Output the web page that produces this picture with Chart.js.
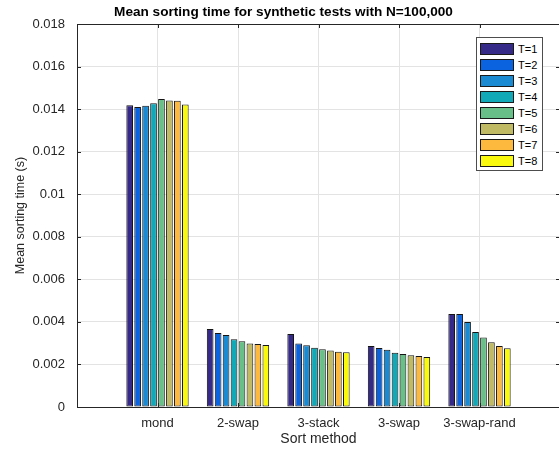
<!DOCTYPE html>
<html>
<head>
<meta charset="utf-8">
<script src="https://cdn.jsdelivr.net/npm/chart.js@4/dist/chart.umd.min.js"></script>
<style>
  html, body { margin: 0; padding: 0; background: #fff; overflow: hidden; }
  #wrap { position: absolute; left: 0; top: 0; width: 569px; height: 452px; }
  #legend {
    position: absolute; left: 476px; top: 37px; width: 67px; height: 134px;
    border: 1px solid #4d4d4d; background: #fff; box-sizing: border-box;
    font: 11px "Liberation Sans", Arial, sans-serif; color: #000;
  }
  .row { position: absolute; left: 3px; height: 12px; width: 60px; }
  .sw { position: absolute; left: 0; top: 0; width: 34px; height: 12px; border: 1px solid #1a1a1a; box-sizing: border-box; }
  .lb { position: absolute; left: 38px; top: -1px; line-height: 14px; white-space: nowrap; }
</style>
</head>
<body>
<div id="wrap"><canvas id="chart"></canvas></div>
<div id="legend"></div>
<script>
// Sort methods along the x axis
const methods = ['mond', '2-swap', '3-stack', '3-swap', '3-swap-rand'];

// Thread counts shown in the legend
const threadLabels = ['T=1', 'T=2', 'T=3', 'T=4', 'T=5', 'T=6', 'T=7', 'T=8'];

// Mean sorting time (s) per method, one array per thread count
const t1 = [0.01418, 0.00367, 0.00343, 0.00287, 0.00437];
const t2 = [0.01410, 0.00348, 0.00299, 0.00277, 0.00437];
const t3 = [0.01416, 0.00338, 0.00290, 0.00269, 0.00399];
const t4 = [0.01427, 0.00318, 0.00279, 0.00255, 0.00352];
const t5 = [0.01447, 0.00309, 0.00271, 0.00249, 0.00327];
const t6 = [0.01441, 0.00299, 0.00265, 0.00243, 0.00304];
const t7 = [0.01439, 0.00296, 0.00260, 0.00240, 0.00287];
const t8 = [0.01422, 0.00291, 0.00257, 0.00235, 0.00276];

// Y axis tick values
const yTicks = [0, 0.002, 0.004, 0.006, 0.008, 0.01, 0.012, 0.014, 0.016, 0.018];

const seriesValues = [t1, t2, t3, t4, t5, t6, t7, t8];
const seriesColors = ['#352a87', '#0b63e0', '#1a8bd3', '#11a8b8', '#68bf88', '#bfba63', '#fdb93e', '#f9f90e'];

const textColor = '#262626';
const gridColor = '#e3e3e3';
const fontFamily = '"Liberation Sans", Arial, Helvetica, sans-serif';

// Empty slots on both ends give the axis one unit of margin around the groups
const xLabels = [''].concat(methods, ['']);

const datasets = seriesValues.map((vals, i) => ({
  label: threadLabels[i],
  data: [null].concat(vals, [null]),
  backgroundColor: seriesColors[i],
  borderColor: '#151515',
  borderWidth: 1,
  borderSkipped: false,
  categoryPercentage: 0.79,
  barPercentage: 0.84
}));

// Axes box top edge and inward tick marks
const axesBox = {
  id: 'axesBox',
  afterDatasetsDraw(chart) {
    const { ctx, chartArea: a, scales } = chart;
    ctx.save();
    ctx.strokeStyle = textColor;
    ctx.lineWidth = 1;
    ctx.beginPath();
    ctx.moveTo(a.left, a.top + 0.5);
    ctx.lineTo(a.right, a.top + 0.5);
    const len = 4;
    yTicks.forEach(v => {
      const y = Math.round(scales.y.getPixelForValue(v)) + 0.5;
      ctx.moveTo(a.left, y); ctx.lineTo(a.left + len, y);
      ctx.moveTo(a.right, y); ctx.lineTo(a.right - len, y);
    });
    methods.forEach((m, i) => {
      const x = Math.round(scales.x.getPixelForValue(i + 1)) + 0.5;
      ctx.moveTo(x, a.bottom); ctx.lineTo(x, a.bottom - len);
      ctx.moveTo(x, a.top); ctx.lineTo(x, a.top + len);
    });
    ctx.stroke();
    ctx.restore();
  }
};

const chart = new Chart(document.getElementById('chart'), {
  type: 'bar',
  data: { labels: xLabels, datasets },
  options: {
    responsive: true,
    maintainAspectRatio: false,
    animation: false,
    layout: { padding: { top: 0, left: 0, right: 2, bottom: 0 } },
    plugins: {
      legend: { display: false },
      tooltip: { enabled: false },
      title: {
        display: true,
        text: 'Mean sorting time for synthetic tests with N=100,000',
        color: '#000',
        font: { family: fontFamily, size: 13.6, weight: 'bold', lineHeight: '16px' },
        padding: { top: 4, bottom: 4 }
      }
    },
    scales: {
      x: {
        type: 'category',
        offset: false,
        grid: { color: gridColor, drawTicks: false, offset: false },
        border: { color: textColor },
        ticks: {
          color: textColor, padding: 9, autoSkip: false, maxRotation: 0,
          font: { family: fontFamily, size: 13 }
        },
        title: {
          display: true, text: 'Sort method', color: textColor,
          font: { family: fontFamily, size: 14 },
          padding: { top: 0, bottom: 4 }
        },
        afterFit(scale) { scale.height = 45; }
      },
      y: {
        min: 0,
        max: 0.018,
        grid: { color: gridColor, drawTicks: false },
        border: { color: textColor },
        afterBuildTicks(scale) { scale.ticks = yTicks.map(v => ({ value: v })); },
        ticks: {
          color: textColor, padding: 12,
          font: { family: fontFamily, size: 13 },
          callback: v => String(Number(v.toFixed(3)))
        },
        title: {
          display: true, text: 'Mean sorting time (s)', color: textColor,
          font: { family: fontFamily, size: 12.5 },
          padding: { top: 13, bottom: 0 }
        },
        afterFit(scale) { scale.width = 77; }
      }
    }
  },
  plugins: [axesBox]
});

// Legend box built from the datasets
const legendEl = document.getElementById('legend');
datasets.forEach((d, i) => {
  const row = document.createElement('div');
  row.className = 'row';
  row.style.top = (5 + i * 16) + 'px';
  const sw = document.createElement('div');
  sw.className = 'sw';
  sw.style.background = d.backgroundColor;
  const lb = document.createElement('span');
  lb.className = 'lb';
  lb.textContent = d.label;
  row.appendChild(sw);
  row.appendChild(lb);
  legendEl.appendChild(row);
});
</script>
</body>
</html>
